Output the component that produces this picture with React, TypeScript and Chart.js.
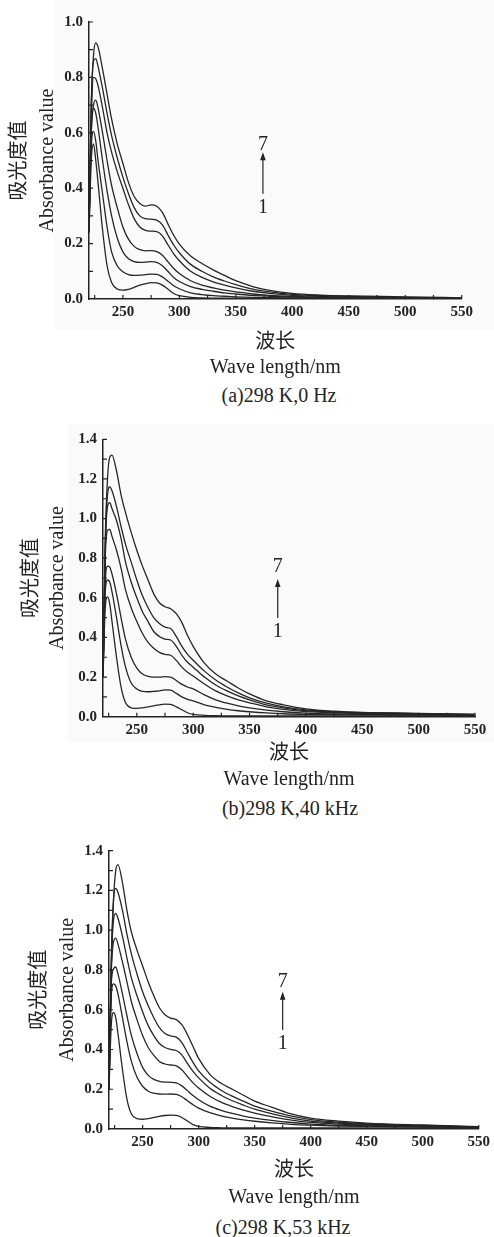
import React, { useEffect, useRef } from "react";
import { Chart, registerables } from "chart.js";

Chart.register(...registerables);

// ---------- data ----------
const wavelengths = [220, 222, 224, 226, 228, 232, 236, 240, 245, 250, 255, 260, 265, 270, 275, 280, 285, 290, 295, 300, 310, 320, 330, 340, 350, 365, 380, 400, 425, 450, 500, 550];

// (a) 298 K, 0 Hz — curves 1..7
const a1 = [0.24, 0.5, 0.56, 0.5, 0.42, 0.25, 0.12, 0.06, 0.036, 0.032, 0.035, 0.042, 0.05, 0.055, 0.059, 0.058, 0.05, 0.035, 0.02, 0.012, 0.006, 0.004, 0.003, 0.003, 0.003, 0.002, 0.002, 0.001, 0.001, 0.001, 0.001, 0.001];
const a2 = [0.25, 0.55, 0.605, 0.57, 0.5, 0.38, 0.26, 0.17, 0.12, 0.098, 0.088, 0.085, 0.086, 0.088, 0.09, 0.089, 0.08, 0.064, 0.048, 0.037, 0.022, 0.016, 0.012, 0.01, 0.008, 0.006, 0.005, 0.004, 0.003, 0.003, 0.002, 0.001];
const a3 = [0.26, 0.6, 0.688, 0.67, 0.62, 0.5, 0.39, 0.3, 0.22, 0.17, 0.145, 0.135, 0.132, 0.133, 0.135, 0.132, 0.12, 0.099, 0.078, 0.063, 0.045, 0.035, 0.028, 0.022, 0.018, 0.013, 0.01, 0.007, 0.005, 0.004, 0.003, 0.002];
const a4 = [0.27, 0.6, 0.7, 0.718, 0.69, 0.6, 0.5, 0.41, 0.33, 0.26, 0.215, 0.19, 0.178, 0.174, 0.175, 0.171, 0.158, 0.134, 0.11, 0.092, 0.066, 0.05, 0.04, 0.032, 0.026, 0.018, 0.013, 0.009, 0.006, 0.005, 0.004, 0.002];
const a5 = [0.26, 0.65, 0.8, 0.795, 0.77, 0.69, 0.6, 0.53, 0.46, 0.4, 0.34, 0.29, 0.26, 0.248, 0.245, 0.243, 0.228, 0.195, 0.163, 0.138, 0.1, 0.078, 0.062, 0.05, 0.04, 0.028, 0.02, 0.013, 0.009, 0.007, 0.005, 0.003];
const a6 = [0.25, 0.7, 0.86, 0.868, 0.84, 0.76, 0.67, 0.59, 0.51, 0.44, 0.38, 0.33, 0.3, 0.29, 0.288, 0.285, 0.268, 0.23, 0.195, 0.167, 0.125, 0.1, 0.08, 0.065, 0.052, 0.036, 0.026, 0.017, 0.012, 0.009, 0.006, 0.003];
const a7 = [0.24, 0.7, 0.88, 0.925, 0.91, 0.83, 0.74, 0.65, 0.56, 0.49, 0.42, 0.37, 0.345, 0.335, 0.34, 0.335, 0.313, 0.27, 0.23, 0.198, 0.155, 0.128, 0.105, 0.085, 0.066, 0.045, 0.031, 0.02, 0.014, 0.011, 0.008, 0.004];

// (b) 298 K, 40 kHz
const b1 = [0.2, 0.55, 0.605, 0.57, 0.48, 0.3, 0.15, 0.07, 0.045, 0.042, 0.045, 0.05, 0.055, 0.06, 0.063, 0.062, 0.05, 0.035, 0.02, 0.012, 0.007, 0.005, 0.004, 0.004, 0.004, 0.004, 0.004, 0.004, 0.004, 0.004, 0.004, 0.004];
const b2 = [0.2, 0.63, 0.69, 0.68, 0.63, 0.5, 0.36, 0.25, 0.17, 0.14, 0.128, 0.126, 0.128, 0.13, 0.135, 0.134, 0.118, 0.1, 0.088, 0.08, 0.06, 0.047, 0.037, 0.03, 0.025, 0.019, 0.015, 0.012, 0.01, 0.009, 0.008, 0.006];
const b3 = [0.2, 0.68, 0.76, 0.755, 0.72, 0.62, 0.5, 0.39, 0.3, 0.245, 0.215, 0.203, 0.2, 0.2, 0.202, 0.2, 0.183, 0.163, 0.15, 0.14, 0.11, 0.085, 0.068, 0.055, 0.045, 0.033, 0.025, 0.018, 0.014, 0.012, 0.01, 0.008];
const b4 = [0.2, 0.8, 0.94, 0.945, 0.91, 0.84, 0.75, 0.64, 0.55, 0.48, 0.42, 0.375, 0.345, 0.325, 0.315, 0.31, 0.284, 0.25, 0.224, 0.205, 0.165, 0.13, 0.105, 0.085, 0.07, 0.05, 0.037, 0.026, 0.02, 0.017, 0.013, 0.009];
const b5 = [0.2, 0.85, 1.06, 1.08, 1.05, 0.99, 0.9, 0.78, 0.68, 0.6, 0.53, 0.48, 0.43, 0.405, 0.392, 0.387, 0.355, 0.31, 0.275, 0.25, 0.2, 0.16, 0.13, 0.105, 0.085, 0.06, 0.045, 0.031, 0.023, 0.019, 0.015, 0.01];
const b6 = [0.2, 0.85, 1.12, 1.16, 1.14, 1.06, 0.96, 0.87, 0.78, 0.69, 0.61, 0.55, 0.5, 0.47, 0.452, 0.445, 0.405, 0.355, 0.315, 0.285, 0.23, 0.185, 0.15, 0.12, 0.095, 0.068, 0.05, 0.034, 0.025, 0.02, 0.016, 0.011];
const b7 = [0.2, 0.9, 1.2, 1.31, 1.32, 1.24, 1.12, 1.03, 0.93, 0.84, 0.76, 0.69, 0.62, 0.575, 0.555, 0.545, 0.52, 0.475, 0.41, 0.355, 0.27, 0.215, 0.18, 0.145, 0.115, 0.08, 0.06, 0.04, 0.028, 0.022, 0.017, 0.012];

// (c) 298 K, 53 kHz
const c1 = [0.2, 0.52, 0.585, 0.56, 0.48, 0.3, 0.15, 0.075, 0.052, 0.049, 0.052, 0.058, 0.064, 0.068, 0.07, 0.069, 0.058, 0.04, 0.022, 0.013, 0.008, 0.006, 0.005, 0.005, 0.005, 0.005, 0.005, 0.005, 0.005, 0.005, 0.005, 0.005];
const c2 = [0.2, 0.67, 0.73, 0.72, 0.68, 0.56, 0.44, 0.34, 0.26, 0.215, 0.19, 0.18, 0.176, 0.175, 0.176, 0.174, 0.162, 0.142, 0.122, 0.105, 0.082, 0.066, 0.055, 0.046, 0.039, 0.031, 0.025, 0.019, 0.015, 0.013, 0.01, 0.007];
const c3 = [0.2, 0.72, 0.805, 0.815, 0.78, 0.68, 0.57, 0.47, 0.38, 0.31, 0.27, 0.25, 0.24, 0.236, 0.235, 0.232, 0.217, 0.193, 0.168, 0.147, 0.115, 0.094, 0.078, 0.065, 0.055, 0.043, 0.034, 0.025, 0.019, 0.016, 0.012, 0.008];
const c4 = [0.2, 0.78, 0.94, 0.96, 0.93, 0.84, 0.74, 0.64, 0.55, 0.47, 0.41, 0.37, 0.34, 0.327, 0.322, 0.318, 0.298, 0.264, 0.232, 0.206, 0.165, 0.135, 0.113, 0.095, 0.08, 0.062, 0.047, 0.033, 0.025, 0.02, 0.014, 0.009];
const c5 = [0.2, 0.8, 1.05, 1.085, 1.06, 0.97, 0.86, 0.76, 0.67, 0.59, 0.52, 0.47, 0.43, 0.41, 0.4, 0.395, 0.373, 0.33, 0.29, 0.257, 0.205, 0.17, 0.142, 0.12, 0.1, 0.077, 0.058, 0.04, 0.03, 0.023, 0.016, 0.01];
const c6 = [0.2, 0.85, 1.15, 1.21, 1.19, 1.1, 0.98, 0.88, 0.78, 0.69, 0.62, 0.56, 0.51, 0.48, 0.468, 0.462, 0.435, 0.385, 0.335, 0.292, 0.235, 0.195, 0.165, 0.14, 0.115, 0.09, 0.068, 0.047, 0.034, 0.026, 0.018, 0.011];
const c7 = [0.2, 0.8, 1.15, 1.3, 1.33, 1.24, 1.1, 0.99, 0.9, 0.82, 0.74, 0.67, 0.61, 0.575, 0.558, 0.55, 0.525, 0.475, 0.415, 0.355, 0.275, 0.23, 0.2, 0.17, 0.14, 0.11, 0.08, 0.055, 0.04, 0.03, 0.02, 0.012];

// ticks
const xTickValues = [250, 300, 350, 400, 450, 500, 550];
const xMinorTickValues = [225, 250, 275, 300, 325, 350, 375, 400, 425, 450, 475, 500, 525, 550];
const yTicksA = [0, 0.2, 0.4, 0.6, 0.8, 1.0];
const yMinorA = [0.1, 0.2, 0.3, 0.4, 0.5, 0.6, 0.7, 0.8, 0.9, 1.0];
const yTicksBC = [0, 0.2, 0.4, 0.6, 0.8, 1.0, 1.2, 1.4];
const yMinorBC = [0.1, 0.2, 0.3, 0.4, 0.5, 0.6, 0.7, 0.8, 0.9, 1.0, 1.1, 1.2, 1.3, 1.4];

// arrow annotation "1 → 7": [wavelength, base value, tip value, label-7 value, label-1 value]
const arrowA = [374, 0.38, 0.53, 0.556, 0.33];
const arrowB = [375, 0.498, 0.695, 0.755, 0.427];
const arrowC = [375, 0.498, 0.69, 0.741, 0.43];

const xTitleLines = ["波长", "Wave length/nm"];
const yTitleLines = ["吸光度值", "Absorbance value"];
const captions = ["(a)298 K,0 Hz", "(b)298 K,40 kHz", "(c)298 K,53 kHz"];
const arrowLabels = ["7", "1"];

// ---------- styles ----------
const FONT = "'Liberation Serif', 'Noto Sans CJK SC', serif";
const INK = "#232323";
const LINE = "#262626";
const W = 494;

type PanelCfg = {
  series: number[][];
  yMax: number;
  yTicks: number[];
  yMinor: number[];
  arrow: number[];
  caption: string;
  top: number;
  height: number;
  padTop: number;
  padRight: number;
  yWidth: number;
  xHeight: number;
  yTitleLH: number;
  yTitlePad: number;
  xTitleLH: number;
  capX: number;
  capY: number;
  bg?: { left: number; top: number; width: number; height: number };
};

const panels: PanelCfg[] = [
  {
    series: [a1, a2, a3, a4, a5, a6, a7], yMax: 1.0, yTicks: yTicksA, yMinor: yMinorA, arrow: arrowA, caption: captions[0],
    top: 0, height: 380, padTop: 22, padRight: 32.3, yWidth: 89, xHeight: 81, yTitleLH: 28, yTitlePad: 6, xTitleLH: 25,
    capX: 279, capY: 395, bg: { left: 55, top: 0, width: 439, height: 330 },
  },
  {
    series: [b1, b2, b3, b4, b5, b6, b7], yMax: 1.4, yTicks: yTicksBC, yMinor: yMinorBC, arrow: arrowB, caption: captions[1],
    top: 420, height: 373, padTop: 19.3, padRight: 19, yWidth: 103, xHeight: 76.3, yTitleLH: 26, yTitlePad: 19, xTitleLH: 26,
    capX: 290, capY: 808, bg: { left: 68, top: 424, width: 426, height: 318 },
  },
  {
    series: [c1, c2, c3, c4, c5, c6, c7], yMax: 1.4, yTicks: yTicksBC, yMinor: yMinorBC, arrow: arrowC, caption: captions[2],
    top: 830, height: 381, padTop: 20.7, padRight: 11.7, yWidth: 109, xHeight: 82, yTitleLH: 28, yTitlePad: 26, xTitleLH: 27,
    capX: 283, capY: 1227,
  },
];

function PanelChart({ cfg }: { cfg: PanelCfg }) {
  const ref = useRef<HTMLCanvasElement | null>(null);

  useEffect(() => {
    if (!ref.current) return;

    const innerTicks = {
      id: "innerTicks",
      afterDatasetsDraw(chart: any) {
        const { ctx, chartArea, scales } = chart;
        ctx.save();
        ctx.strokeStyle = INK;
        ctx.lineWidth = 1.2;
        ctx.beginPath();
        for (const v of xMinorTickValues) {
          const px = scales.x.getPixelForValue(v);
          ctx.moveTo(px, chartArea.bottom);
          ctx.lineTo(px, chartArea.bottom - 4);
        }
        for (const v of cfg.yMinor) {
          const py = scales.y.getPixelForValue(v);
          ctx.moveTo(chartArea.left, py);
          ctx.lineTo(chartArea.left + 4, py);
        }
        ctx.stroke();
        ctx.restore();
      },
    };

    const arrowPlugin = {
      id: "arrowNote",
      afterDatasetsDraw(chart: any) {
        const { ctx, scales } = chart;
        const [wl, base, tip, v7, v1] = cfg.arrow;
        const x = scales.x.getPixelForValue(wl);
        const yBase = scales.y.getPixelForValue(base);
        const yTip = scales.y.getPixelForValue(tip);
        ctx.save();
        ctx.strokeStyle = INK;
        ctx.fillStyle = INK;
        ctx.lineWidth = 1.2;
        ctx.beginPath();
        ctx.moveTo(x, yBase);
        ctx.lineTo(x, yTip + 6);
        ctx.stroke();
        ctx.beginPath();
        ctx.moveTo(x, yTip);
        ctx.lineTo(x - 2.8, yTip + 8);
        ctx.lineTo(x + 2.8, yTip + 8);
        ctx.closePath();
        ctx.fill();
        ctx.font = `20px ${FONT}`;
        ctx.textAlign = "center";
        ctx.textBaseline = "middle";
        ctx.fillText(arrowLabels[0], x, scales.y.getPixelForValue(v7));
        ctx.fillText(arrowLabels[1], x, scales.y.getPixelForValue(v1));
        ctx.restore();
      },
    };

    const chart = new Chart(ref.current, {
      type: "line",
      data: {
        datasets: cfg.series.map((s, i) => ({
          label: `${i + 1}`,
          data: wavelengths.map((w, j) => ({ x: w, y: s[j] })),
          borderColor: LINE,
          borderWidth: 1.3,
          pointRadius: 0,
          fill: false,
          cubicInterpolationMode: "monotone" as const,
        })),
      },
      options: {
        responsive: false,
        animation: false,
        events: [],
        layout: { padding: { top: cfg.padTop, right: cfg.padRight, bottom: 0, left: 0 } },
        plugins: { legend: { display: false }, tooltip: { enabled: false } },
        scales: {
          x: {
            type: "linear",
            min: 220,
            max: 550,
            grid: { display: false, drawTicks: false },
            border: { display: true, color: INK, width: 1.5 },
            ticks: {
              color: INK,
              font: { family: FONT, size: 15, weight: "bold" },
              padding: 4,
              maxRotation: 0,
              autoSkip: false,
            },
            afterBuildTicks: (scale: any) => {
              scale.ticks = xTickValues.map((v) => ({ value: v }));
            },
            afterFit: (scale: any) => {
              scale.height = cfg.xHeight;
            },
            title: {
              display: true,
              text: xTitleLines,
              color: INK,
              font: { family: FONT, size: 20, lineHeight: cfg.xTitleLH / 20 },
              padding: { top: 0, bottom: 0 },
            },
          },
          y: {
            type: "linear",
            min: 0,
            max: cfg.yMax,
            grid: { display: false, drawTicks: false },
            border: { display: true, color: INK, width: 1.5 },
            ticks: {
              color: INK,
              font: { family: FONT, size: 15, weight: "bold" },
              padding: 6,
              callback: (v: any) => Number(v).toFixed(1),
            },
            afterBuildTicks: (scale: any) => {
              scale.ticks = cfg.yTicks.map((v) => ({ value: v }));
            },
            afterFit: (scale: any) => {
              scale.width = cfg.yWidth;
            },
            title: {
              display: true,
              text: yTitleLines,
              color: INK,
              font: { family: FONT, size: 20, lineHeight: cfg.yTitleLH / 20 },
              padding: { top: cfg.yTitlePad, bottom: 0 },
            },
          },
        },
      },
      plugins: [innerTicks, arrowPlugin],
    } as any);

    return () => chart.destroy();
  }, [cfg]);

  return (
    <>
      {cfg.bg && (
        <div
          style={{
            position: "absolute",
            left: cfg.bg.left,
            top: cfg.bg.top,
            width: cfg.bg.width,
            height: cfg.bg.height,
            background: "#fafafa",
          }}
        />
      )}
      <canvas
        ref={ref}
        width={W}
        height={cfg.height}
        style={{ position: "absolute", left: 0, top: cfg.top, width: W, height: cfg.height }}
      />
      <div
        style={{
          position: "absolute",
          left: cfg.capX - 150,
          top: cfg.capY - 13,
          width: 300,
          height: 26,
          lineHeight: "26px",
          textAlign: "center",
          fontFamily: FONT,
          fontSize: 20,
          color: INK,
          whiteSpace: "pre",
        }}
      >
        {cfg.caption}
      </div>
    </>
  );
}

export default function App() {
  return (
    <div style={{ position: "absolute", left: 0, top: 0, width: W, height: 1237, background: "#fff", overflow: "hidden" }}>
      {panels.map((p, i) => (
        <PanelChart key={i} cfg={p} />
      ))}
    </div>
  );
}
